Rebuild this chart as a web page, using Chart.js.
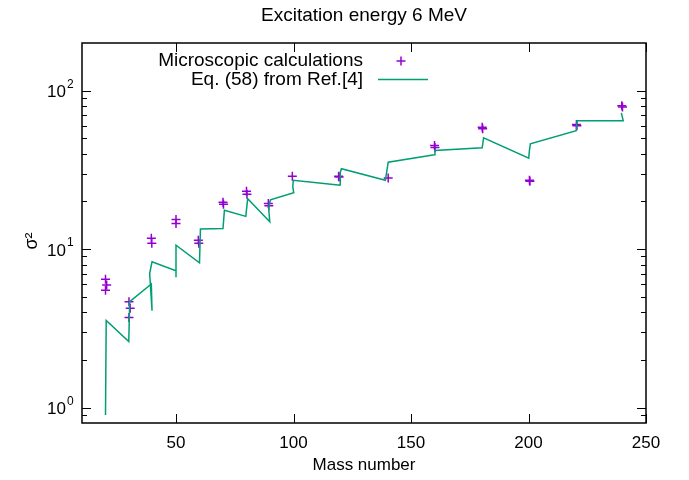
<!DOCTYPE html>
<html>
<head>
<meta charset="utf-8">
<script src="https://cdn.jsdelivr.net/npm/chart.js@4.4.1/dist/chart.umd.min.js"></script>
<style>
html,body{margin:0;padding:0;background:#fff;}
</style>
</head>
<body>
<canvas id="c" width="689" height="480"></canvas>
<script>
// Microscopic calculations (purple crosses)
const microA      = [20, 20.5, 20, 30, 30.5, 30, 39.5, 39.7, 50, 50, 59.5, 59.7, 70, 70.2, 80, 80.2, 89.3, 89.5, 99.5, 119.2, 119.4, 140.3, 160, 160.2, 180.3, 180.5, 200.4, 200.6, 220.4, 220.6, 239.7, 240];
const microSigma2 = [6.45, 5.95, 5.5, 4.66, 4.24, 3.71, 11.7, 10.9, 15.4, 14.5, 11.4, 10.9, 19.8, 19.2, 23.2, 22.2, 19.4, 18.8, 28.9, 28.9, 28.5, 28.1, 45.1, 43.8, 58.8, 57.6, 27.2, 26.8, 61.1, 60.0, 80.5, 79.0];

// Eq. (58) from Ref.[4] (green line)
const eqA      = [20, 20.3, 29.9, 30.3, 39.5, 39.8, 38.8, 39.8, 50, 50, 50, 60, 60.4, 70, 70.6, 79.7, 80.5, 89.9, 89.4, 90.2, 100.1, 99.7, 99.9, 120, 119.9, 120.4, 139.1, 140.3, 160, 160.2, 180.3, 180.9, 200.1, 200.4, 200.8, 220.3, 220.7, 240.3, 239.5];
const eqSigma2 = [0.9, 3.55, 2.61, 4.66, 6.03, 4.09, 7.03, 8.32, 7.3, 6.64, 10.6, 8.2, 13.4, 13.5, 17.6, 16.1, 20.8, 14.9, 18.3, 20.5, 22.7, 24.8, 27.2, 25.3, 30.5, 32.2, 27.2, 35.4, 39.4, 42.0, 43.6, 50.5, 37.5, 42.0, 46.2, 56.0, 64.7, 64.7, 72.4];

// axes
const xTicks = [50, 100, 150, 200, 250];
const yTicks = [1, 10, 100];
const yMinor = [0.9, 2, 3, 4, 5, 6, 7, 8, 9, 20, 30, 40, 50, 60, 70, 80, 90];

const TITLE = 'Excitation energy 6 MeV';
const FONT = "'Liberation Sans', Arial, Helvetica, sans-serif";
Chart.defaults.font.family = FONT;
Chart.defaults.color = '#000';

const PURPLE = '#9400d3', GREEN = '#009e73';

// gnuplot-like frame with inward ticks, 10^n labels, title, y title and legend
const framePlugin = {
  id: 'frame',
  afterDraw(chart) {
    const { ctx, chartArea: a, scales: { x, y } } = chart;
    ctx.save();
    ctx.strokeStyle = '#000';
    ctx.lineWidth = 1;
    ctx.beginPath();
    xTicks.forEach(v => {
      const px = Math.round(x.getPixelForValue(v)) + 0.5;
      ctx.moveTo(px, a.bottom); ctx.lineTo(px, a.bottom - 9);
      ctx.moveTo(px, a.top); ctx.lineTo(px, a.top + 9);
    });
    yTicks.forEach(v => {
      const py = Math.round(y.getPixelForValue(v)) + 0.5;
      ctx.moveTo(a.left, py); ctx.lineTo(a.left + 9, py);
      ctx.moveTo(a.right, py); ctx.lineTo(a.right - 9, py);
    });
    yMinor.forEach(v => {
      const py = Math.round(y.getPixelForValue(v)) + 0.5;
      ctx.moveTo(a.left, py); ctx.lineTo(a.left + 5, py);
      ctx.moveTo(a.right, py); ctx.lineTo(a.right - 5, py);
    });
    ctx.stroke();
    ctx.lineWidth = 1.5;
    ctx.strokeRect(a.left, a.top, a.right - a.left, a.bottom - a.top);

    ctx.fillStyle = '#000';
    ctx.textBaseline = 'middle';

    // title centred over the plot
    ctx.font = '19px ' + FONT;
    ctx.textAlign = 'center';
    ctx.fillText(TITLE, (a.left + a.right) / 2, 16);

    // y axis title: sigma squared, rotated
    ctx.save();
    ctx.translate(32, 241);
    ctx.rotate(-Math.PI / 2);
    ctx.font = '18px ' + FONT;
    ctx.textAlign = 'center';
    ctx.fillText('σ²', 0, 0);
    ctx.restore();

    // y tick labels: 10 with superscript exponent
    yTicks.forEach(v => {
      const py = y.getPixelForValue(v);
      ctx.font = '17px ' + FONT;
      ctx.textAlign = 'right';
      ctx.fillText('10', 66, py + 2);
      ctx.font = '12px ' + FONT;
      ctx.textAlign = 'left';
      ctx.fillText(String(Math.round(Math.log10(v))), 67, py - 6);
    });

    // legend, right-aligned text with sample after it
    const ds = chart.data.datasets;
    ctx.font = '19px ' + FONT;
    ctx.textAlign = 'right';
    ctx.fillText(ds[0].label, 363, 61);
    ctx.fillText(ds[1].label, 363, 80);
    ctx.strokeStyle = PURPLE;
    ctx.lineWidth = 1.5;
    ctx.beginPath();
    ctx.moveTo(396.5, 61); ctx.lineTo(405.5, 61);
    ctx.moveTo(401, 56.5); ctx.lineTo(401, 65.5);
    ctx.stroke();
    ctx.strokeStyle = GREEN;
    ctx.beginPath();
    ctx.moveTo(378, 79.5); ctx.lineTo(428, 79.5);
    ctx.stroke();
    ctx.restore();
  }
};

new Chart(document.getElementById('c'), {
  type: 'scatter',
  data: {
    datasets: [
      {
        label: 'Microscopic calculations',
        data: microA.map((a, i) => ({ x: a, y: microSigma2[i] })),
        pointStyle: 'cross',
        pointRadius: 4.5,
        pointHoverRadius: 4.5,
        borderColor: PURPLE,
        backgroundColor: PURPLE,
        borderWidth: 1.5,
        showLine: false,
        order: 1
      },
      {
        label: 'Eq. (58) from Ref.[4]',
        data: eqA.map((a, i) => ({ x: a, y: eqSigma2[i] })),
        showLine: true,
        borderColor: GREEN,
        backgroundColor: GREEN,
        borderWidth: 1.5,
        pointRadius: 0,
        tension: 0,
        order: 0
      }
    ]
  },
  options: {
    responsive: false,
    animation: false,
    devicePixelRatio: 1,
    layout: { padding: { top: 43, right: 43, bottom: 0, left: 0 } },
    plugins: {
      legend: { display: false },
      tooltip: { enabled: false },
      title: { display: false }
    },
    scales: {
      x: {
        type: 'linear',
        min: 10, max: 250,
        afterBuildTicks: s => { s.ticks = xTicks.map(v => ({ value: v })); },
        afterFit: s => { s.height = 57; },
        grid: { display: false, drawTicks: false },
        border: { display: false },
        ticks: { font: { size: 17 }, color: '#000', padding: 10, maxRotation: 0 },
        title: { display: true, text: 'Mass number', font: { size: 17 }, color: '#000', padding: { top: 0, bottom: 4 } }
      },
      y: {
        type: 'logarithmic',
        min: 0.8, max: 200,
        afterBuildTicks: s => { s.ticks = yTicks.map(v => ({ value: v })); },
        afterFit: s => { s.width = 82; },
        grid: { display: false, drawTicks: false },
        border: { display: false },
        ticks: { display: false },
        title: { display: false }
      }
    }
  },
  plugins: [framePlugin]
});
</script>
</body>
</html>
